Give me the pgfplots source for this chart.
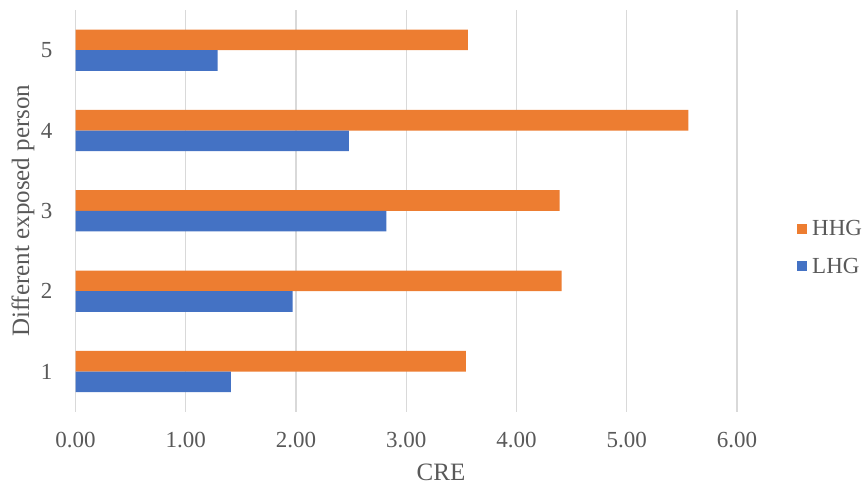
\documentclass[border=0pt]{standalone}
\usepackage{fontspec}
\setmainfont{Liberation Serif}
\usepackage{pgfplots}
\pgfplotsset{compat=1.18}
\definecolor{hhg}{HTML}{ED7D31}
\definecolor{lhg}{HTML}{4472C4}
\definecolor{txt}{HTML}{595959}
\definecolor{gridc}{HTML}{D9D9D9}

\begin{document}
\begin{tikzpicture}
\useasboundingbox (0,0) rectangle (866bp,490bp);
\begin{axis}[
  at={(75.5bp,78.3bp)}, anchor=south west,
  scale only axis, width=661.5bp, height=401.7bp,
  xbar,
  xmin=0, xmax=6, ymin=0.5, ymax=5.5,
  bar width=0.257,
  axis line style={draw=none},
  tick style={draw=none},
  xmajorgrids,
  major grid style={gridc, line width=1.2bp},
  xtick={0,...,6}, ytick={1,...,5},
  /pgf/number format/assume math mode=true,
  xticklabel={\pgfmathprintnumber[fixed,fixed zerofill,precision=2]{\tick}},
  xticklabel style={anchor=center, yshift=-28.3bp, text=txt, font=\fontsize{23bp}{27bp}\selectfont},
  yticklabel style={anchor=center, xshift=-24.5bp, text=txt, font=\fontsize{23bp}{27bp}\selectfont},
  xlabel={CRE},
  ylabel={Different exposed person},
  xlabel style={at={(axis description cs:0.5525,-0.152)}, anchor=center, text=txt, font=\fontsize{25bp}{29bp}\selectfont},
  ylabel style={at={(axis description cs:-0.0794,0.5)}, anchor=center, text=txt, font=\fontsize{25bp}{29bp}\selectfont},
  legend style={draw=none, fill=none, at={(axis description cs:1.0907,0.409)}, anchor=west,
    font=\fontsize{23bp}{27bp}\selectfont, text=txt, inner sep=0pt, row sep=19bp, column sep=4bp,
    nodes={inner sep=1pt}},
  legend cell align=left,
  legend image code/.code={\fill[#1] (0bp,-5bp) rectangle (10bp,5bp);},
]
% HHG group sits above the LHG bar in each category
\addplot[fill=hhg, draw=none, bar shift=0.1285] coordinates {
  (3.54,1) (4.41,2) (4.39,3) (5.56,4) (3.56,5)};
\addlegendentry{HHG}
\addplot[fill=lhg, draw=none, bar shift=-0.1285] coordinates {
  (1.41,1) (1.97,2) (2.82,3) (2.48,4) (1.29,5)};
\addlegendentry{LHG}
\end{axis}
\end{tikzpicture}
\end{document}
